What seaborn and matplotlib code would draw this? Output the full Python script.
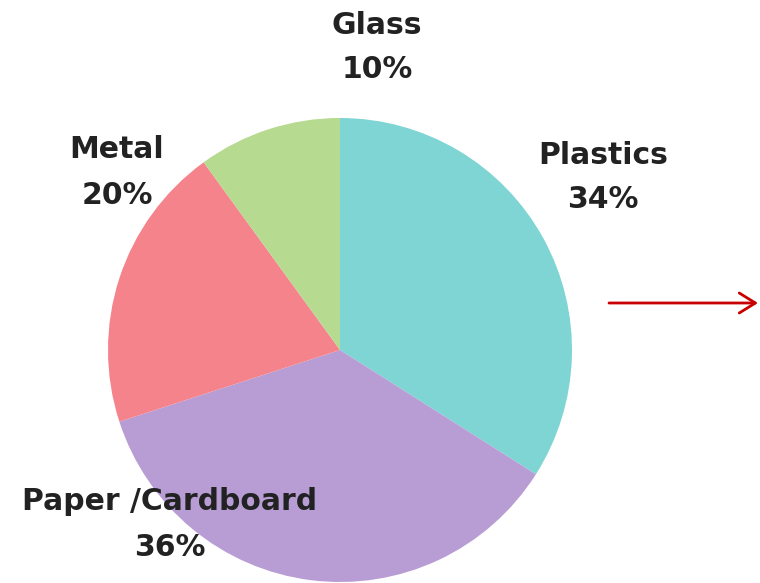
import matplotlib
matplotlib.use("Agg")
import matplotlib.pyplot as plt
import seaborn as sns

# Waste composition shares (percent)
categories = ["Plastics", "Paper /Cardboard", "Metal", "Glass"]
shares = [34, 36, 20, 10]
slice_colors = ["#7fd4d4", "#b89dd5", "#f5838b", "#b6da8f"]

sns.set_theme(style="white")
plt.rcParams["font.family"] = ["DejaVu Sans"]

W, H = 760, 583
fig = plt.figure(figsize=(W / 100, H / 100), dpi=100)
ax = fig.add_axes([0, 0, 1, 1])

ax.pie(shares, colors=slice_colors, startangle=90, counterclock=False,
       center=(340, H - 350), radius=232,
       wedgeprops=dict(linewidth=0), frame=True)
ax.set_xlim(0, W)
ax.set_ylim(0, H)
ax.set_aspect("equal")
ax.axis("off")

# Label placement (x, y in pixels from the top-left)
label_pos = {
    "Plastics": (603, 155),
    "Paper /Cardboard": (170, 502),
    "Metal": (117, 150),
    "Glass": (377, 25),
}
for name, val in zip(categories, shares):
    x, y = label_pos[name]
    ax.text(x, H - y, name, ha="center", va="center", fontsize=21.5,
            fontweight="bold", color="#222222")
    ax.text(x, H - y - 45, f"{val}%", ha="center", va="center", fontsize=21.5,
            fontweight="bold", color="#222222")

# Red pointer arrow
ax.annotate("", xy=(758, H - 303), xytext=(609, H - 303),
            arrowprops=dict(arrowstyle="->,head_length=0.58,head_width=0.36",
                            mutation_scale=20, color="#c80000", lw=2,
                            shrinkA=0, shrinkB=0))

fig.savefig("out.png", dpi=100)
